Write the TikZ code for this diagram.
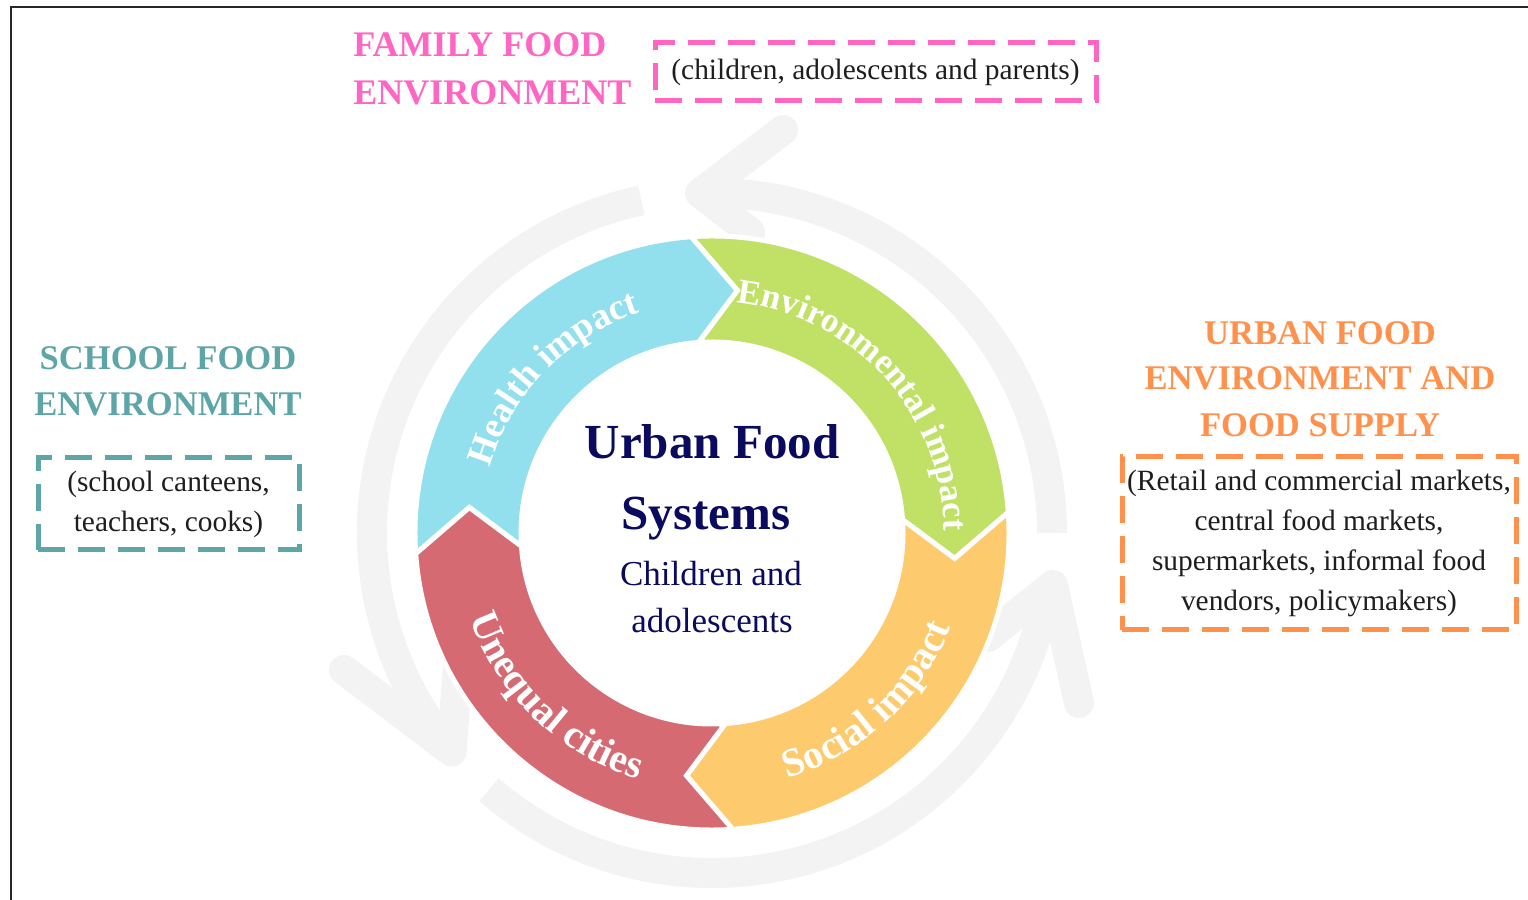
\documentclass[tikz,border=0pt]{standalone}
\usepackage{fontspec}
\setmainfont{Liberation Serif}
\usetikzlibrary{decorations.text}
\definecolor{cblue}{RGB}{146,223,238}
\definecolor{cgreen}{RGB}{193,224,102}
\definecolor{cyellow}{RGB}{253,203,110}
\definecolor{cred}{RGB}{214,106,115}
\definecolor{cpink}{RGB}{255,102,196}
\definecolor{cteal}{RGB}{94,165,168}
\definecolor{corange}{RGB}{255,145,77}
\definecolor{cgray}{RGB}{243,243,243}
\definecolor{cnavy}{RGB}{10,10,95}
\definecolor{ctext}{RGB}{30,30,30}
% ring segment: #1 tail angle, #2 colour
\newcommand{\ringseg}[2]{%
  \fill[#2, draw=white, line width=2.5pt, line join=miter]
    ([shift={(#1:297)}]C) arc[start angle=#1, end angle=#1-90, radius=297]
    -- ([shift={({#1-100}:244)}]C)
    -- ([shift={({#1-90}:191)}]C) arc[start angle=#1-90, end angle=#1, radius=191]
    -- ([shift={({#1-10}:244)}]C) -- cycle;}
\begin{document}
\begin{tikzpicture}[x=0.5pt,y=0.5pt,
  garc/.style={draw=cgray, line width=15pt, line cap=butt},
  gbarb/.style={draw=cgray, line width=15pt, line cap=round, line join=round},
  titlefont/.style={font=\fontsize{17.3}{20}\selectfont\bfseries, inner sep=0pt, anchor=base},
  dbox/.style={draw=#1, line width=2.5pt, dash pattern=on 13.5pt off 6.5pt, inner sep=0pt,
     text=ctext, align=center, font=\fontsize{14.7}{20}\selectfont},
  ctr/.style={text=cnavy, inner sep=0pt, anchor=base}]
\useasboundingbox (0,0) rectangle (1528,900);
\coordinate (C) at (712,367);
% frame
\draw[line width=1.2pt, black!85] (11,0) -- (11,893) -- (1528,893);

% background circular arrows
\coordinate (tipA) at ([shift={(220:340)}]C);
\coordinate (bA1) at (344,230);
\coordinate (bA2) at (459,248);
\draw[garc] ([shift={(102:340)}]C) arc[start angle=102, end angle=220, radius=340];
\draw[gbarb] (bA1) -- (tipA) -- (bA2);

\coordinate (tipB) at ([shift={(92:340)}]C);
\coordinate (bB1) at (783,770);
\coordinate (bB2) at (750,668);
\draw[garc] ([shift={(0:340)}]C) arc[start angle=0, end angle=92, radius=340];
\draw[gbarb] (bB1) -- (tipB) -- (bB2);

\coordinate (tipC) at (1053,315);
\coordinate (bC1) at (1079,197);
\coordinate (bC2) at (988,263);
\draw[garc] ([shift={(229:340)}]C) arc[start angle=229, end angle=351.5, radius=340];
\draw[gbarb] (bC1) -- (tipC) -- (bC2);

% ring
\ringseg{184}{cblue}
\ringseg{94}{cgreen}
\ringseg{4}{cyellow}
\ringseg{274}{cred}

% ring labels
\path[decorate, decoration={text along path, text align=center,
  text={|\color{white}\fontsize{18.5}{18.5}\selectfont\bfseries|Health impact}}]
  ([shift={(175.75:232)}]C) arc[start angle=175.75, end angle=95.75, radius=232];
\path[decorate, decoration={text along path, text align=center,
  text={|\color{white}\fontsize{17.5}{17.5}\selectfont\bfseries|Environmental impact}}]
  ([shift={(92.2:232)}]C) arc[start angle=92.2, end angle=-7.8, radius=232];
\path[decorate, decoration={text along path, text align=center,
  text={|\color{white}\fontsize{20}{20}\selectfont\bfseries|Unequal cities}}]
  ([shift={(186.35:257)}]C) arc[start angle=186.35, end angle=266.35, radius=257];
\path[decorate, decoration={text along path, text align=center,
  text={|\color{white}\fontsize{20}{20}\selectfont\bfseries|Social impact}}]
  ([shift={(-87.2:257)}]C) arc[start angle=-87.2, end angle=-7.2, radius=257];

% centre text
\node[ctr, font=\fontsize{24.5}{24.5}\selectfont\bfseries] (t1) at (712,441) {Urban Food};
\node[ctr, font=\fontsize{24.5}{24.5}\selectfont\bfseries] (t2) at (706,370) {Systems};
\node[ctr, font=\fontsize{17.5}{17.5}\selectfont] (t3) at (711,314) {Children and};
\node[ctr, font=\fontsize{17.5}{17.5}\selectfont] (t4) at (712,267) {adolescents};

% family
\node[titlefont, text=cpink, font=\fontsize{18}{20}\selectfont\bfseries, anchor=base west] (fam1) at (353,843) {FAMILY FOOD};
\node[titlefont, text=cpink, font=\fontsize{18}{20}\selectfont\bfseries, anchor=base west] (fam2) at (353,795) {ENVIRONMENT};
\node[dbox=cpink, minimum width=220.5pt, minimum height=29pt] (famb) at (875.5,828) {(children, adolescents and parents)};

% school
\node[titlefont, text=cteal] (sch1) at (168,530) {SCHOOL FOOD};
\node[titlefont, text=cteal] (sch2) at (168,484) {ENVIRONMENT};
\node[dbox=cteal, minimum width=130.5pt, minimum height=46pt] (schb) at (168.5,396) {(school canteens,\\ teachers, cooks)};

% urban
\node[titlefont, text=corange] (urb1) at (1320,555) {URBAN FOOD};
\node[titlefont, text=corange] (urb2) at (1320,510) {ENVIRONMENT AND};
\node[titlefont, text=corange] (urb3) at (1320,463) {FOOD SUPPLY};
\node[dbox=corange, minimum width=197pt, minimum height=86.5pt] (urbb) at (1319,356.5) {(Retail and commercial markets,\\ central food markets,\\ supermarkets, informal food\\ vendors, policymakers)};
\end{tikzpicture}
\end{document}
